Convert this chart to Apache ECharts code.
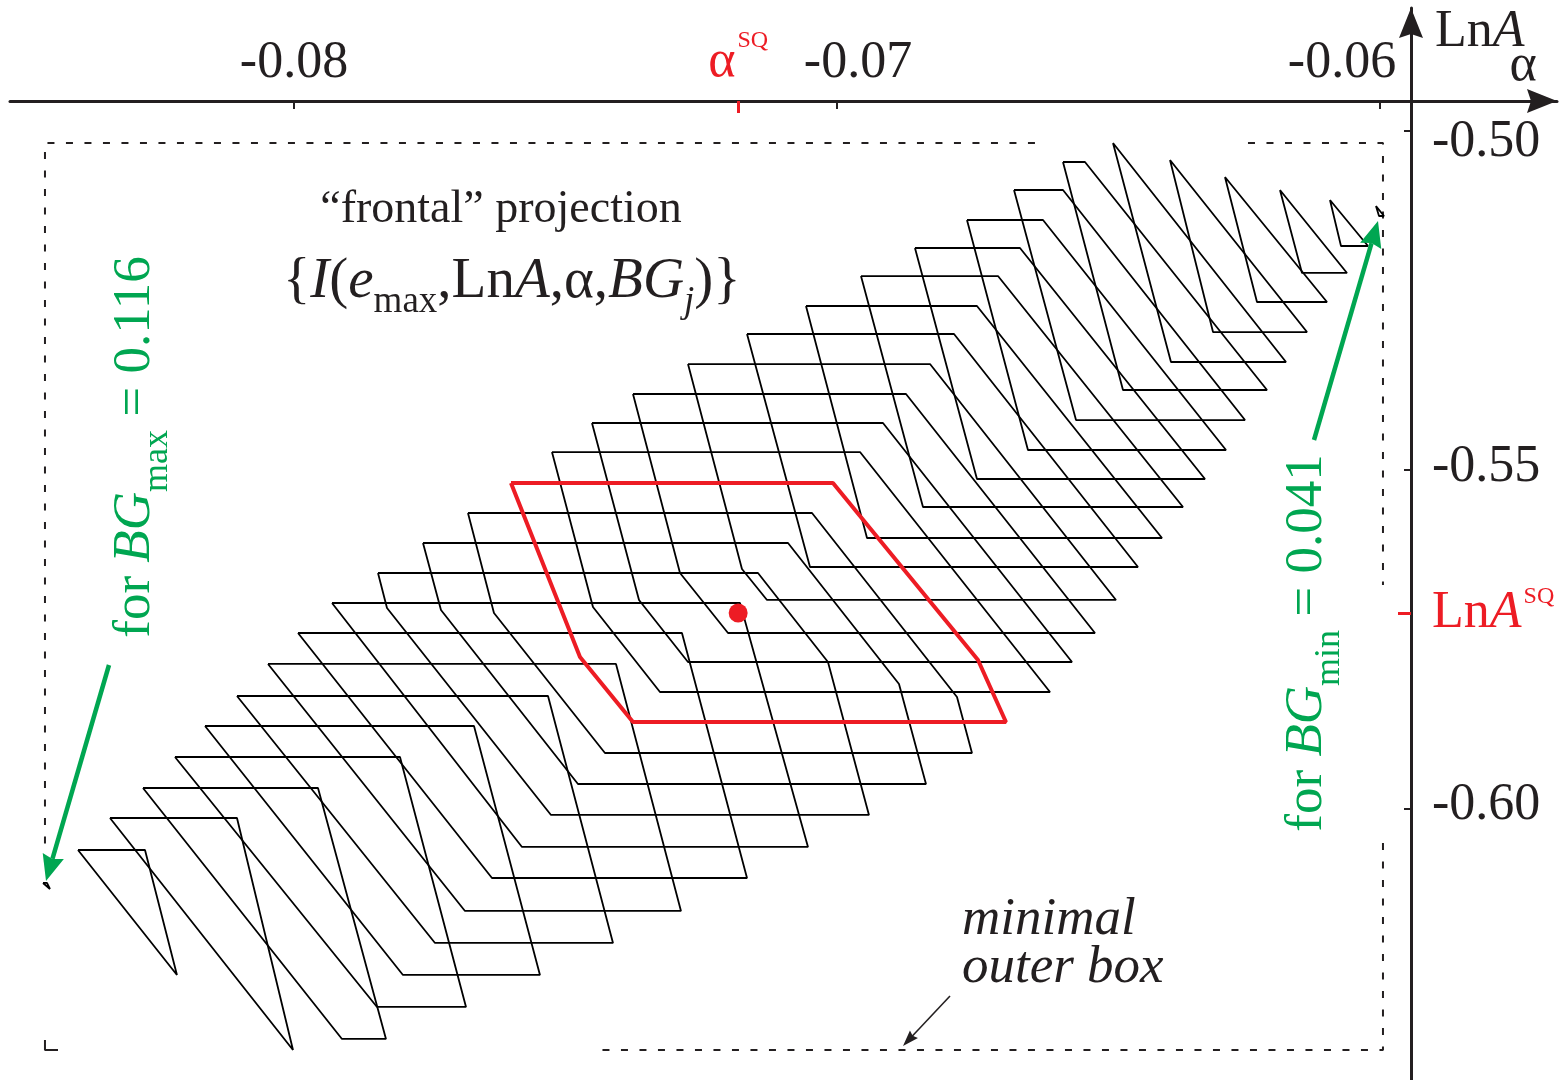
<!DOCTYPE html>
<html>
<head>
<meta charset="utf-8">
<script src="https://cdn.jsdelivr.net/npm/echarts@6/dist/echarts.min.js"></script>
<style>
  html, body { margin: 0; padding: 0; background: #ffffff; }
  #main { width: 1565px; height: 1080px; }
</style>
</head>
<body>
<div id="main"></div>
<script>
// ---- axes ----
const alphaRange = [-0.085230, -0.056740];
const lnARange = [-0.639971, -0.481858];
const alphaTicks = [-0.08, -0.07, -0.06];
const alphaTickLabels = ['-0.08', '-0.07', '-0.06'];
const lnATicks = [-0.50, -0.55, -0.60];
const lnATickLabels = ['-0.50', '-0.55', '-0.60'];

// ---- SQ point ----
const alphaSQ = -0.07182;
const lnASQ = -0.57109;

// ---- background range ----
const bgMax = 0.116;
const bgMin = 0.041;

// ---- contours {I(e_max, LnA, alpha, BG_j)}, ordered from BG_max to BG_min ----
const contoursBG = [
  [[-0.084622, -0.61091], [-0.084549, -0.61091], [-0.084494, -0.61180]],
  [[-0.083978, -0.60605], [-0.082744, -0.60605], [-0.082155, -0.62448]],
  [[-0.083389, -0.60133], [-0.081050, -0.60133], [-0.080018, -0.63555]],
  [[-0.082781, -0.59690], [-0.079558, -0.59690], [-0.078306, -0.63392], [-0.079116, -0.63392]],
  [[-0.082192, -0.59233], [-0.078048, -0.59233], [-0.076832, -0.62920], [-0.078471, -0.62920]],
  [[-0.081639, -0.58776], [-0.076685, -0.58776], [-0.075470, -0.62448], [-0.077993, -0.62448]],
  [[-0.081050, -0.58333], [-0.075322, -0.58333], [-0.074125, -0.61976], [-0.077403, -0.61976]],
  [[-0.080479, -0.57861], [-0.074070, -0.57861], [-0.072873, -0.61504], [-0.076851, -0.61504]],
  [[-0.079926, -0.57404], [-0.072855, -0.57404], [-0.071657, -0.61018], [-0.076354, -0.61018]],
  [[-0.079300, -0.56962], [-0.071786, -0.56962], [-0.070534, -0.60560], [-0.075801, -0.60560]],
  [[-0.078453, -0.56519], [-0.071455, -0.56519], [-0.070166, -0.57832], [-0.069411, -0.60088], [-0.075267, -0.60088], [-0.078287, -0.57035]],
  [[-0.077624, -0.56077], [-0.070902, -0.56077], [-0.068858, -0.58156], [-0.068361, -0.59631], [-0.074770, -0.59631], [-0.077293, -0.57065]],
  [[-0.076796, -0.55634], [-0.070460, -0.55634], [-0.067790, -0.58348], [-0.067514, -0.59174], [-0.074273, -0.59174], [-0.076317, -0.57109]],
  [[-0.075249, -0.54735], [-0.069576, -0.54735], [-0.066077, -0.58274], [-0.073260, -0.58274], [-0.074494, -0.57021]],
  [[-0.074512, -0.54307], [-0.069153, -0.54307], [-0.065672, -0.57832], [-0.072744, -0.57832], [-0.073646, -0.56917]],
  [[-0.073757, -0.53879], [-0.068729, -0.53879], [-0.065249, -0.57404], [-0.072007, -0.57404], [-0.072891, -0.56519]],
  [[-0.072744, -0.53437], [-0.068287, -0.53437], [-0.064862, -0.56917], [-0.071289, -0.56917], [-0.071750, -0.56460]],
  [[-0.071657, -0.52994], [-0.067845, -0.52994], [-0.064457, -0.56431], [-0.070497, -0.56431]],
  [[-0.070571, -0.52581], [-0.067422, -0.52581], [-0.064015, -0.56003], [-0.069447, -0.56003]],
  [[-0.069558, -0.52139], [-0.067035, -0.52139], [-0.063628, -0.55546], [-0.068416, -0.55546]],
  [[-0.068564, -0.51726], [-0.066630, -0.51726], [-0.063223, -0.55133], [-0.067422, -0.55133]],
  [[-0.067606, -0.51313], [-0.066206, -0.51313], [-0.062836, -0.54705], [-0.066483, -0.54705]],
  [[-0.066740, -0.50870], [-0.065838, -0.50870], [-0.062486, -0.54263], [-0.065598, -0.54263]],
  [[-0.065838, -0.50457], [-0.065433, -0.50457], [-0.062081, -0.53820], [-0.064733, -0.53820]],
  [[-0.064917, -0.50177], [-0.061731, -0.53407], [-0.063849, -0.53407]],
  [[-0.063867, -0.50428], [-0.061344, -0.52965], [-0.063075, -0.52965]],
  [[-0.062855, -0.50678], [-0.060976, -0.52522], [-0.062265, -0.52522]],
  [[-0.061842, -0.50870], [-0.060608, -0.52094], [-0.061436, -0.52094]],
  [[-0.060921, -0.51018], [-0.060221, -0.51696], [-0.060718, -0.51696]],
  [[-0.060074, -0.51106], [-0.059926, -0.51254], [-0.060018, -0.51254]]
];

// contour through the SQ point
const contourSQ = [[-0.076004, -0.55192], [-0.070074, -0.55192], [-0.067403, -0.57802],
                   [-0.066888, -0.58717], [-0.073757, -0.58717], [-0.074733, -0.57758]];

// minimal outer box (drawn as broken dashed segments)
const boxAlpha = [-0.084586, -0.059945];
const boxLnA = [-0.63555, -0.50177];
const boxSegments = [
  [[boxAlpha[0], -0.60782], [boxAlpha[0], boxLnA[1]], [-0.066169, boxLnA[1]]],
  [[-0.062431, boxLnA[1]], [boxAlpha[1], boxLnA[1]], [boxAlpha[1], -0.56696]],
  [[boxAlpha[1], -0.60502], [boxAlpha[1], boxLnA[0]], [-0.074494, boxLnA[0]]]
];
const boxCorner = [[boxAlpha[0], -0.63407], [boxAlpha[0], boxLnA[0]], [-0.084346, boxLnA[0]]];

const FONT = "'Liberation Serif', 'Times New Roman', serif";
const FAM = 'Liberation Serif';
const INK = '#231f20';
const RED = '#ed1c24';
const GREEN = '#00a651';

const closed = pts => pts.concat([pts[0]]);

const series = [];
contoursBG.forEach((pts, j) => {
  series.push({
    type: 'line', name: 'BG' + j, data: closed(pts), showSymbol: false, symbol: 'none',
    lineStyle: { color: '#000000', width: 1.8 }, silent: true, z: 2
  });
});
boxSegments.forEach((seg, k) => {
  series.push({
    type: 'line', name: 'box' + k, data: seg, showSymbol: false, symbol: 'none',
    lineStyle: { color: INK, width: 2, type: [7, 11.5] }, silent: true, z: 1
  });
});
series.push({
  type: 'line', name: 'boxCorner', data: boxCorner, showSymbol: false, symbol: 'none',
  lineStyle: { color: INK, width: 2 }, silent: true, z: 1
});
series.push({
  type: 'line', name: 'SQ contour', data: closed(contourSQ), showSymbol: false, symbol: 'none',
  lineStyle: { color: RED, width: 4 }, silent: true, z: 5
});
series.push({
  type: 'scatter', name: 'SQ', data: [[alphaSQ, lnASQ]], symbol: 'circle', symbolSize: 19,
  itemStyle: { color: RED, opacity: 1 }, silent: true, z: 6
});

const tok = (size, extra) => Object.assign({ fontSize: size, fontFamily: FAM, lineHeight: size, verticalAlign: 'middle' }, extra || {});

function arrow(x1, y1, x2, y2, color, width, headLen, headW) {
  const dx = x2 - x1, dy = y2 - y1, L = Math.hypot(dx, dy), ux = dx / L, uy = dy / L;
  const bx = x2 - ux * headLen, by = y2 - uy * headLen, px = -uy, py = ux;
  return [
    { type: 'line', shape: { x1: x1, y1: y1, x2: bx + ux * 3, y2: by + uy * 3 }, style: { stroke: color, lineWidth: width }, z: 10 },
    { type: 'polygon', shape: { points: [[x2, y2], [bx + px * headW / 2, by + py * headW / 2],
        [bx + ux * headLen * 0.12, by + uy * headLen * 0.12], [bx - px * headW / 2, by - py * headW / 2]] },
      style: { fill: color }, z: 10 }
  ];
}

const alphaLabelRich = {
  t0: tok(52, { color: INK }),
  t1: tok(52, { color: INK, padding: [0, 0, 0, 42] }),
  t2: tok(52, { color: INK, padding: [0, 76, 0, 0] })
};
const lnALabelRich = {
  t0: tok(52, { color: INK, padding: [22, 0, 0, 0] }),
  t1: tok(52, { color: INK, padding: [0, 0, 6, 0] }),
  t2: tok(52, { color: INK, padding: [0, 0, 8, 0] })
};
const findIdx = (arr, v) => arr.findIndex(t => Math.abs(t - v) < 1e-9);

const option = {
  animation: false,
  backgroundColor: '#ffffff',
  grid: { left: 10, right: 8, top: 8, bottom: 0, containLabel: false },
  xAxis: [
    {
      type: 'value', position: 'top', offset: -93, min: alphaRange[0], max: alphaRange[1],
      axisLine: { show: true, onZero: false, symbol: ['none', 'path://M12,0L24,30L12,26L0,30Z'],
        symbolSize: [24, 30], symbolOffset: [0, -15], lineStyle: { color: INK, width: 3 } },
      axisTick: { show: true, inside: true, length: 8, customValues: alphaTicks, lineStyle: { color: INK, width: 2 } },
      axisLabel: { show: true, margin: 12, customValues: alphaTicks,
        formatter: v => { const i = findIdx(alphaTicks, v); return '{t' + i + '|' + alphaTickLabels[i] + '}'; },
        rich: alphaLabelRich },
      splitLine: { show: false }
    },
    {
      type: 'value', position: 'top', offset: -93, min: alphaRange[0], max: alphaRange[1],
      axisLine: { show: false, onZero: false },
      axisTick: { show: true, inside: true, length: 12, customValues: [alphaSQ], lineStyle: { color: RED, width: 3 } },
      axisLabel: { show: true, margin: 13, customValues: [alphaSQ],
        formatter: () => '{a|α}{s|SQ}',
        rich: { a: tok(52, { color: RED }), s: tok(24, { color: RED, padding: [0, 0, 43, 2] }) } },
      splitLine: { show: false }
    }
  ],
  yAxis: [
    {
      type: 'value', position: 'right', offset: -146, min: lnARange[0], max: lnARange[1],
      axisLine: { show: true, onZero: false, symbol: ['none', 'path://M12,0L24,30L12,26L0,30Z'],
        symbolSize: [24, 30], symbolOffset: [0, -15], lineStyle: { color: INK, width: 3 } },
      axisTick: { show: true, inside: true, length: 7, customValues: lnATicks, lineStyle: { color: INK, width: 2 } },
      axisLabel: { show: true, margin: 21, customValues: lnATicks,
        formatter: v => { const i = findIdx(lnATicks, v); return '{t' + i + '|' + lnATickLabels[i] + '}'; },
        rich: lnALabelRich },
      splitLine: { show: false }
    },
    {
      type: 'value', position: 'right', offset: -146, min: lnARange[0], max: lnARange[1],
      axisLine: { show: false, onZero: false },
      axisTick: { show: true, inside: true, length: 13, customValues: [lnASQ], lineStyle: { color: RED, width: 3 } },
      axisLabel: { show: true, margin: 21, customValues: [lnASQ],
        formatter: () => '{a|Ln}{i|A}{s|SQ}',
        rich: { a: tok(52, { color: RED }), i: tok(52, { color: RED, fontStyle: 'italic' }),
                s: tok(24, { color: RED, padding: [0, 0, 33, 2] }) } },
      splitLine: { show: false }
    }
  ],
  series: series,
  graphic: [
    // axis names
    { type: 'text', x: 1435, y: 32, z: 20, style: { text: '{r|Ln}{i|A}', align: 'left', verticalAlign: 'middle',
      rich: { r: tok(52, { fill: INK }), i: tok(52, { fill: INK, fontStyle: 'italic' }) } } },
    { type: 'text', x: 1523, y: 66, z: 20, style: { text: 'α', font: '52px ' + FONT, fill: INK, align: 'center', verticalAlign: 'middle' } },
    // caption
    { type: 'text', x: 501, y: 210, z: 20, style: { text: '\u201cfrontal\u201d projection', font: '46px ' + FONT, fill: INK, align: 'center', verticalAlign: 'middle' } },
    { type: 'text', x: 283, y: 282, z: 20, style: {
      text: '{n|{}{i|I}{n|(}{i|e}{s|max}{n|,Ln}{i|A}{n|,α,}{i|BG}{si|j}{n|)}}',
      font: '57px ' + FONT, fill: INK, align: 'left', verticalAlign: 'middle',
      rich: { n: tok(57, { fill: INK }), i: tok(57, { fill: INK, fontStyle: 'italic' }),
              s: tok(37, { fill: INK, padding: [40, 0, 0, 0] }),
              si: tok(37, { fill: INK, fontStyle: 'italic', padding: [40, 0, 0, 0] }) } } },
    // BG labels
    { type: 'text', x: 135, y: 447, rotation: Math.PI / 2, z: 20, style: {
      text: '{n|for }{i|BG}{s|max}{n| = ' + bgMax.toFixed(3) + '}', align: 'center', verticalAlign: 'middle',
      rich: { n: tok(53, { fill: GREEN }), i: tok(53, { fill: GREEN, fontStyle: 'italic' }),
              s: tok(36, { fill: GREEN, padding: [46, 0, 0, 0] }) } } },
    { type: 'text', x: 1307, y: 643, rotation: Math.PI / 2, z: 20, style: {
      text: '{n|for }{i|BG}{s|min}{n| = ' + bgMin.toFixed(3) + '}', align: 'center', verticalAlign: 'middle',
      rich: { n: tok(53, { fill: GREEN }), i: tok(53, { fill: GREEN, fontStyle: 'italic' }),
              s: tok(36, { fill: GREEN, padding: [46, 0, 0, 0] }) } } },
    // box note
    { type: 'text', x: 962, y: 920, z: 20, style: { text: 'minimal', font: 'italic 53px ' + FONT, fill: INK, align: 'left', verticalAlign: 'middle' } },
    { type: 'text', x: 962, y: 968, z: 20, style: { text: 'outer box', font: 'italic 53px ' + FONT, fill: INK, align: 'left', verticalAlign: 'middle' } }
  ]
    .concat(arrow(109, 665, 46, 881, GREEN, 4.5, 26, 22))
    .concat(arrow(1314, 440, 1378, 221, GREEN, 4.5, 26, 22))
    .concat(arrow(950, 996, 903, 1046, INK, 1.6, 16, 11))
};

const chart = echarts.init(document.getElementById('main'), null, { renderer: 'canvas' });
chart.setOption(option);
</script>
</body>
</html>
